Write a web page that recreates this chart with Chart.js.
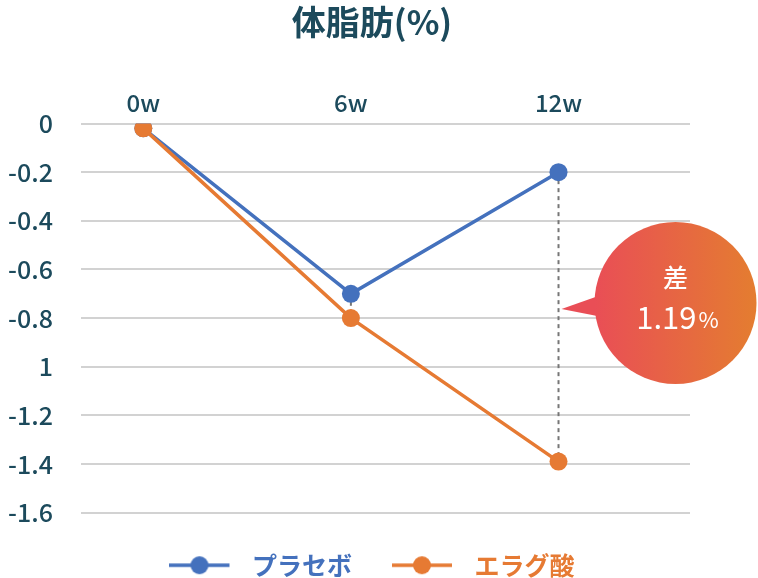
<!DOCTYPE html>
<html>
<head>
<meta charset="utf-8">
<script src="https://cdn.jsdelivr.net/npm/chart.js@4"></script>
<style>
  html, body { margin: 0; padding: 0; background: #fff; }
  #wrap { width: 758px; height: 578px; }
</style>
</head>
<body>
<div id="wrap"><canvas id="fatChart" width="758" height="578"></canvas></div>
<script>
  // データ
  const weeks = [0, 6, 12];
  const weekLabels = ['0w', '6w', '12w'];
  const placebo = [-0.02, -0.7, -0.2];
  const ellagic = [-0.02, -0.8, -1.39];
  const yTickValues = [0, -0.2, -0.4, -0.6, -0.8, -1, -1.2, -1.4, -1.6];
  const yTickLabels = ['0', '-0.2', '-0.4', '-0.6', '-0.8', '1', '-1.2', '-1.4', '-1.6'];
  const diffLabel = '1.19';

  const navy = '#1c4a5c';
  const blue = '#4471bd';
  const orange = '#e67a33';
  const font = "'Noto Sans CJK JP', 'Noto Sans', sans-serif";

  // 凡例用アイコン（線＋丸）
  function legendIcon(color) {
    const c = document.createElement('canvas');
    c.width = 70; c.height = 20;
    const g = c.getContext('2d');
    g.strokeStyle = color;
    g.lineWidth = 3.5;
    g.beginPath(); g.moveTo(0, 10); g.lineTo(60, 10); g.stroke();
    g.fillStyle = color;
    g.beginPath(); g.arc(30, 10, 9, 0, Math.PI * 2); g.fill();
    return c;
  }
  const icons = [legendIcon(blue), legendIcon(orange)];

  // 点線と吹き出し
  const notePlugin = {
    id: 'note',
    beforeDatasetsDraw(chart) {
      const {ctx, scales: {x, y}} = chart;
      ctx.save();
      ctx.strokeStyle = '#767676';
      ctx.lineWidth = 2;
      ctx.setLineDash([4, 4]);
      weeks.forEach((w, i) => {
        if (Math.abs(placebo[i] - ellagic[i]) < 0.05) return;
        const px = x.getPixelForValue(w);
        ctx.beginPath();
        ctx.moveTo(px, y.getPixelForValue(placebo[i]));
        ctx.lineTo(px, y.getPixelForValue(ellagic[i]));
        ctx.stroke();
      });
      ctx.restore();
    },
    afterDraw(chart) {
      const {ctx, scales: {x}} = chart;
      const tipX = x.getPixelForValue(weeks[2]) + 3;
      const tipY = 309;
      const cx = tipX + 114, cy = 303, r = 81;
      ctx.save();
      const grad = ctx.createLinearGradient(cx - r, 0, cx + r, 0);
      grad.addColorStop(0, '#e94e56');
      grad.addColorStop(1, '#e47d30');
      ctx.fillStyle = grad;
      ctx.beginPath();
      ctx.arc(cx, cy, r, 0, Math.PI * 2);
      ctx.fill();
      ctx.beginPath();
      ctx.moveTo(tipX, tipY);
      ctx.lineTo(cx - r + 18, cy - 12);
      ctx.lineTo(cx - r + 18, cy + 16);
      ctx.closePath();
      ctx.fill();
      ctx.fillStyle = '#fff';
      ctx.textAlign = 'center';
      ctx.textBaseline = 'middle';
      ctx.font = '500 25px ' + font;
      ctx.fillText('差', cx, cy - 26);
      ctx.font = '400 31px ' + font;
      const numW = ctx.measureText(diffLabel).width;
      ctx.font = '400 22px ' + font;
      const pctW = ctx.measureText('%').width;
      const startX = cx + 2 - (numW + pctW + 2) / 2;
      ctx.textAlign = 'left';
      ctx.font = '400 31px ' + font;
      ctx.fillText(diffLabel, startX, cy + 14);
      ctx.font = '400 22px ' + font;
      ctx.fillText('%', startX + numW + 2, cy + 17);
      ctx.restore();
    }
  };

  const ctx = document.getElementById('fatChart').getContext('2d');
  const fatChart = new Chart(ctx, {
    type: 'line',
    data: {
      datasets: [
        {
          label: 'プラセボ',
          data: weeks.map((w, i) => ({x: w, y: placebo[i]})),
          borderColor: blue,
          backgroundColor: blue,
          borderWidth: 3.5,
          pointRadius: 9,
          pointHoverRadius: 9,
          pointBorderWidth: 0,
          order: 1
        },
        {
          label: 'エラグ酸',
          data: weeks.map((w, i) => ({x: w, y: ellagic[i]})),
          borderColor: orange,
          backgroundColor: orange,
          borderWidth: 3.5,
          pointRadius: 9,
          pointHoverRadius: 9,
          pointBorderWidth: 0,
          order: 0
        }
      ]
    },
    options: {
      responsive: false,
      animation: false,
      layout: { padding: { left: 0, right: 14, top: 0, bottom: 0 } },
      plugins: {
        title: {
          display: true,
          text: '体脂肪(%)',
          color: navy,
          font: { family: font, size: 34, weight: 'bold' },
          padding: { top: 2, bottom: 0 }
        },
        legend: {
          position: 'bottom',
          maxHeight: 65.3,
          labels: {
            usePointStyle: true,
            pointStyleWidth: 70,
            boxHeight: 20,
            padding: 40,
            font: { family: font, size: 25, weight: 'bold' },
            generateLabels: chart => chart.data.datasets.map((ds, i) => ({
              text: ds.label,
              fontColor: ds.borderColor,
              pointStyle: icons[i],
              fillStyle: 'transparent',
              strokeStyle: 'transparent',
              lineWidth: 0,
              hidden: false,
              datasetIndex: i
            }))
          }
        },
        tooltip: { enabled: false }
      },
      scales: {
        x: {
          type: 'linear',
          position: 'top',
          min: -1.8,
          max: 15.8,
          afterBuildTicks: scale => { scale.ticks = weeks.map(v => ({value: v})); },
          afterFit: scale => { scale.height = 80.7; },
          grid: { display: false, drawTicks: false },
          border: { display: false },
          ticks: {
            padding: 6,
            color: navy,
            font: { family: font, size: 24, weight: '500' },
            callback: v => weekLabels[weeks.indexOf(v)]
          }
        },
        y: {
          min: -1.6,
          max: 0,
          afterBuildTicks: scale => { scale.ticks = yTickValues.map(v => ({value: v})); },
          afterFit: scale => { scale.width = 81; },
          grid: { color: '#d2d2d2', lineWidth: 2, drawTicks: false },
          border: { display: false },
          ticks: {
            padding: 28,
            color: navy,
            font: { family: font, size: 25, weight: '500' },
            callback: v => {
              const i = yTickValues.findIndex(t => Math.abs(t - v) < 1e-6);
              return yTickLabels[i];
            }
          }
        },
        y2: {
          position: 'right',
          display: true,
          afterFit: scale => { scale.width = 54; },
          grid: { display: false, drawTicks: false },
          border: { display: false },
          ticks: { display: false }
        }
      }
    },
    plugins: [notePlugin]
  });
</script>
</body>
</html>
